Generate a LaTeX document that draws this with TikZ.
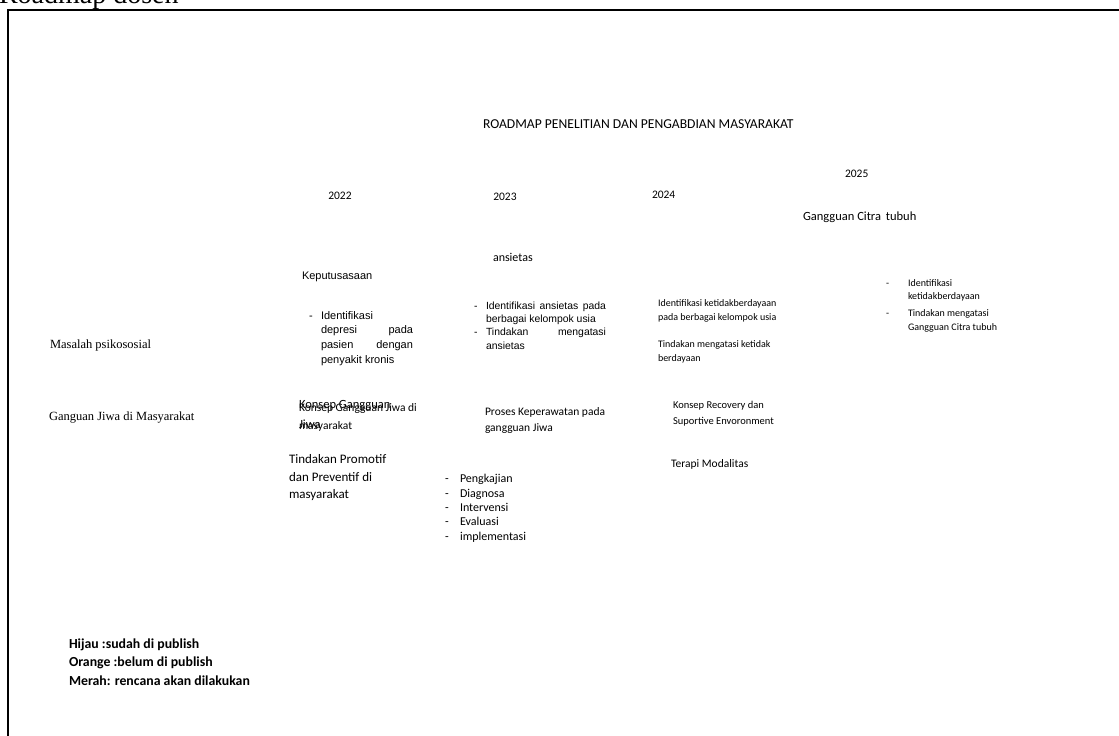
\documentclass[tikz,border=0pt]{standalone}
\usepackage{fontspec}
\setmainfont{Liberation Serif}
\newfontfamily\calfont{Carlito}
\newfontfamily\arifont{Liberation Sans}
\usetikzlibrary{positioning}
\tikzset{
  txt/.style={anchor=base west, inner sep=0pt, outer sep=0pt},
  cal/.style={txt, font=\calfont\fontsize{#1}{#1}\selectfont},
  ari/.style={txt, font=\arifont\fontsize{#1}{#1}\selectfont},
  ser/.style={txt, font=\fontsize{#1}{#1}\selectfont},
  legend/.style={txt, font=\calfont\bfseries\fontsize{13.8}{13.8}\selectfont},
}
\begin{document}
\begin{tikzpicture}[x=1pt, y=-1pt]
  \useasboundingbox (0,0) rectangle (1119,736);
  % Page title and frame
  \node[ser=28] (title) at (-1,4) {Roadmap dosen};
  \draw[line width=2pt] (8,760) -- (8,10) -- (1140,10);

  % Header and years
  \node[cal=13.6] (head) at (483,128) {ROADMAP PENELITIAN DAN PENGABDIAN MASYARAKAT};
  \node[cal=11.5] (y22) at (328.3,199.5) {2022};
  \node[cal=11.5] (y23) at (493.3,200.5) {2023};
  \node[cal=11.5] (y24) at (652,198.5) {2024};
  \node[cal=11.5] (y25) at (845,177.5) {2025};

  % Rows
  \node[ser=12.5] (rowa) at (50,348.8) {Masalah psikososial};
  \node[ser=12.5] (rowb) at (49,420.8) {Ganguan Jiwa di Masyarakat};

  % 2022
  \node[ari=11] (kep) at (302,279.3) {Keputusasaan};
  \node[ari=11] (kepd) at (309,319.3) {-};
  \node[ari=11] (kep1) at (321,319.3) {Identifikasi};
  \node[ari=11] (kep2) at (321,333.3) {\makebox[92pt][s]{depresi pada}};
  \node[ari=11] (kep3) at (321,348.3) {\makebox[92pt][s]{pasien dengan}};
  \node[ari=11] (kep4) at (321,363.3) {penyakit kronis};
  \node[cal=12.5] (kgja) at (299,408.8) {Konsep Gangguan};
  \node[cal=12.5] (kgjb) at (299,428.8) {Jiwa};
  \node[cal=11.5] (kgmA) at (299,411.5) {Konsep Gangguan Jiwa di};
  \node[cal=11.5] (kgmB) at (299,429.5) {masyarakat};
  \node[cal=13] (prom1) at (289,463.9) {Tindakan Promotif};
  \node[cal=13] (prom2) at (289,481.9) {dan Preventif di};
  \node[cal=13] (prom3) at (289,498.9) {masyarakat};

  % 2023
  \node[cal=12] (ans) at (493,261.6) {ansietas};
  \node[ari=10.4] (ansd1) at (474,309.1) {-};
  \node[ari=10.4] (ans1) at (486,309.1) {\makebox[120pt][s]{Identifikasi ansietas pada}};
  \node[ari=10.4] (ans2) at (486,322.1) {berbagai kelompok usia};
  \node[ari=10.4] (ansd2) at (474,335.1) {-};
  \node[ari=10.4] (ans3) at (486,335.1) {\makebox[120pt][s]{Tindakan mengatasi}};
  \node[ari=10.4] (ans4) at (486,349.1) {ansietas};
  \node[cal=11.5] (pros1) at (485,415.5) {Proses Keperawatan pada};
  \node[cal=11.5] (pros2) at (485,431.5) {gangguan\ Jiwa};
  \foreach \w [count=\i] in {Pengkajian,Diagnosa,Intervensi,Evaluasi,implementasi} {
    \node[cal=12] (dsh\i) at (445,{468.2+14.4*\i}) {-};
    \node[cal=12] (stp\i) at (460,{468.2+14.4*\i}) {\w};
  }

  % 2024
  \node[cal=10] (ktb1) at (658,306) {Identifikasi ketidakberdayaan};
  \node[cal=10] (ktb2) at (658,320) {pada berbagai kelompok usia};
  \node[cal=10] (ktb3) at (658,347) {Tindakan mengatasi ketidak};
  \node[cal=10] (ktb4) at (658,361) {berdayaan};
  \node[cal=10.5] (rec1) at (673,408.2) {Konsep Recovery dan};
  \node[cal=10.5] (rec2) at (673,424.2) {Suportive Envoronment};
  \node[cal=11.5] (mod) at (671,467.5) {Terapi Modalitas};

  % 2025
  \node[cal=12.5] (cit) at (803,220.8) {Gangguan Citra\hspace{2pt} tubuh};
  \node[cal=10] (citd1) at (886,286) {-};
  \node[cal=10] (cit1) at (908,286) {Identifikasi};
  \node[cal=10] (cit2) at (908,299) {ketidakberdayaan};
  \node[cal=10] (citd2) at (886,316) {-};
  \node[cal=10] (cit3) at (908,316) {Tindakan mengatasi};
  \node[cal=10] (cit4) at (908,330) {Gangguan Citra tubuh};

  % Legend
  \node[legend] (lg1) at (69,648.9) {Hijau :sudah di publish};
  \node[legend] (lg2) at (69,666.9) {Orange :belum di publish};
  \node[legend] (lg3) at (69,685.9) {Merah: rencana akan dilakukan};
\end{tikzpicture}
\end{document}
